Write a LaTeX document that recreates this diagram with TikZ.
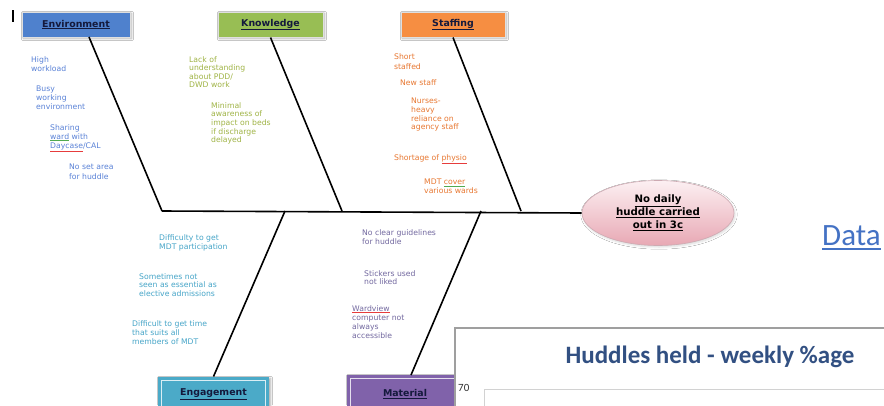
\documentclass[tikz,border=0pt]{standalone}
\usepackage{fontspec}
\setmainfont{DejaVu Sans}
\newfontfamily\calibrifont{Carlito}
\usetikzlibrary{shapes.geometric,shadows.blur}

\definecolor{envfill}{RGB}{79,129,205}
\definecolor{knowfill}{RGB}{152,190,84}
\definecolor{stafffill}{RGB}{246,142,66}
\definecolor{engfill}{RGB}{75,170,200}
\definecolor{matfill}{RGB}{128,98,170}
\definecolor{envtext}{RGB}{90,130,215}
\definecolor{knowtext}{RGB}{160,180,70}
\definecolor{stafftext}{RGB}{232,120,50}
\definecolor{engtext}{RGB}{70,165,200}
\definecolor{mattext}{RGB}{115,105,160}
\definecolor{titletext}{RGB}{20,25,60}
\definecolor{chartblue}{RGB}{50,80,130}
\definecolor{linkblue}{RGB}{68,114,196}
\definecolor{squigred}{RGB}{230,60,60}
\definecolor{squiggreen}{RGB}{80,170,80}
\definecolor{effecttop}{RGB}{252,240,242}
\definecolor{effectbottom}{RGB}{232,168,180}
\definecolor{effectline}{RGB}{205,170,178}

% word underlined in one colour, written in another
\newcommand\flagged[3]{{\color{#1}\underline{\color{#2}#3}}}

\tikzset{
  catbox/.style={rectangle, draw=gray!25, line width=1pt, minimum height=25pt,
    inner sep=0pt, font=\bfseries\fontsize{9.4}{11}\selectfont, text=titletext,
    blur shadow={shadow xshift=1.5pt, shadow yshift=-1.5pt, shadow blur steps=4, shadow opacity=35}},
  framedbox/.style={catbox, draw=none,
    path picture={\draw[white!80!#1, line width=0.9pt]
      ([shift={(3.5pt,-3.5pt)}]path picture bounding box.north west) rectangle
      ([shift={(-3.5pt,3.5pt)}]path picture bounding box.south east);}},
  cause/.style={anchor=north west, inner sep=0pt, align=left,
    font=\fontsize{7.7}{9}\selectfont},
  bone/.style={line width=1.6pt, black},
  effect/.style={ellipse, draw=effectline, line width=0.6pt, inner sep=0pt,
    minimum width=152pt, minimum height=65pt,
    top color=effecttop, bottom color=effectbottom,
    align=center, font=\bfseries\fontsize{10.2}{13}\selectfont,
    blur shadow={shadow xshift=1pt, shadow yshift=-1.5pt, shadow blur steps=4, shadow opacity=15}},
}

\begin{document}
\begin{tikzpicture}[x=1pt,y=-1pt]
\useasboundingbox (0,0) rectangle (884,405);
\clip (0,0) rectangle (884,405);
\fill[white] (0,0) rectangle (884,405);

% cursor mark
\draw[line width=1.2pt] (13,10) -- (13,22);

% category boxes
\node[catbox, fill=envfill, minimum width=108pt] (env) at (76,24.5) {\underline{Environment}};
\node[catbox, fill=knowfill, minimum width=105pt] (know) at (270.5,24.5) {\underline{Knowledge}};
\node[catbox, fill=stafffill, minimum width=104pt] (staff) at (453,24.5) {\underline{Staffing}};
\node[framedbox=engfill, fill=engfill, minimum width=111pt, minimum height=34pt] (eng) at (213.5,394) {\underline{Engagement}};
\node[framedbox=matfill, fill=matfill, minimum width=116pt, minimum height=38pt] (mat) at (405,394) {\underline{Material}};

% effect
\node[effect] (effect) at (658,213) {\underline{No daily}\\\underline{huddle carried}\\\underline{out in 3c}};

% spine and bones
\coordinate (envtop) at (89,37);
\coordinate (envj) at (162,211);
\coordinate (knowj) at (342,211);
\coordinate (staffj) at (521,211);
\coordinate (engj) at (285,211);
\coordinate (matj) at (481,211);
\coordinate (mattop) at (411,375);

\draw[bone] (envj) -- (effect.west);
\draw[bone] (envtop) -- (envj);
\draw[bone] (know.south) -- (knowj);
\draw[bone] (staff.south) -- (staffj);
\draw[bone] (engj) -- (eng.north);
\draw[bone] (matj) -- (mattop);

% environment causes
\node[cause, text=envtext] (e1) at (31,56) {High\\workload};
\node[cause, text=envtext, font=\fontsize{7.7}{8.6}\selectfont] (e2) at (36,86) {Busy\\working\\environment};
\node[cause, text=envtext] (e3) at (50,124) {Sharing\\\flagged{squiggreen}{envtext}{ward} with\\\flagged{squigred}{envtext}{Daycase}/CAL};
\node[cause, text=envtext, font=\fontsize{7.7}{10}\selectfont] (e4) at (69,164) {No set area\\for huddle};

% knowledge causes
\node[cause, text=knowtext, font=\fontsize{7.7}{8.6}\selectfont] (k1) at (189,56) {Lack of\\understanding\\about PDD/\\DWD work};
\node[cause, text=knowtext, font=\fontsize{7.7}{8.7}\selectfont] (k2) at (211,102) {Minimal\\awareness of\\impact on beds\\if discharge\\delayed};

% staffing causes
\node[cause, text=stafftext, font=\fontsize{7.7}{10}\selectfont] (s1) at (394,53) {Short\\staffed};
\node[cause, text=stafftext] (s2) at (400,79) {New staff};
\node[cause, text=stafftext, font=\fontsize{7.7}{8.7}\selectfont] (s3) at (411,98) {Nurses-\\heavy\\reliance on\\agency staff};
\node[cause, text=stafftext] (s4) at (394,154) {Shortage of \flagged{squigred}{stafftext}{physio}};
\node[cause, text=stafftext] (s5) at (424,179) {MDT \flagged{squiggreen}{stafftext}{cover}\\various wards};

% engagement causes
\node[cause, text=engtext] (g1) at (159,234) {Difficulty to get\\MDT participation};
\node[cause, text=engtext, font=\fontsize{7.7}{8.6}\selectfont] (g2) at (139,273) {Sometimes not\\seen as essential as\\elective admissions};
\node[cause, text=engtext, font=\fontsize{7.7}{9.4}\selectfont] (g3) at (132,320) {Difficult to get time\\that suits all\\members of MDT};

% material causes
\node[cause, text=mattext] (m1) at (362,229) {No clear guidelines\\for huddle};
\node[cause, text=mattext, font=\fontsize{7.7}{8.2}\selectfont] (m2) at (364,270) {Stickers used\\not liked};
\node[cause, text=mattext] (m3) at (352,305) {\flagged{squigred}{mattext}{Wardview}\\computer not\\always\\accessible};

% data link
\node[anchor=base west, inner sep=0pt, text=linkblue, font=\calibrifont\fontsize{31}{31}\selectfont] (data) at (822,245) {Data};
\draw[linkblue, line width=1.4pt] ([yshift=-4pt]data.base west) -- ([yshift=-4pt]data.base east);

% chart panel
\draw[gray!75, line width=1.3pt, fill=white] (455,328) rectangle (900,420);
\node[anchor=base, inner sep=0pt, text=chartblue, font=\calibrifont\bfseries\fontsize{25}{26}\selectfont] (charttitle) at (710,363) {Huddles held - weekly \%age};
\node[anchor=west, inner sep=0pt, text=black!80, font=\calibrifont\fontsize{11}{11}\selectfont] (ytick) at (458,388) {70};
\draw[gray!35, line width=0.8pt] (484,389) rectangle (900,420);
\end{tikzpicture}
\end{document}
